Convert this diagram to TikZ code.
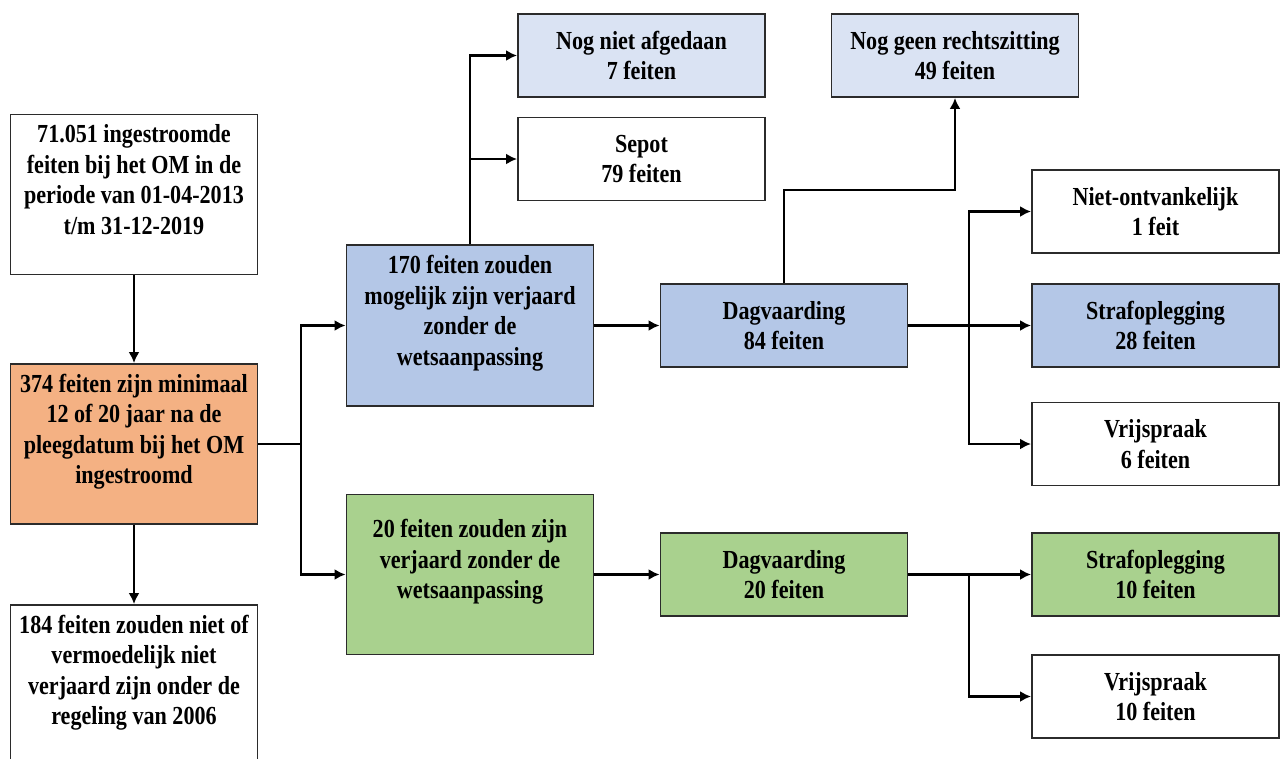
\documentclass[tikz,border=0pt]{standalone}
\usepackage{fontspec}
\setmainfont{Liberation Serif}[FakeStretch=0.85]
\usetikzlibrary{arrows.meta}
\definecolor{orangebox}{HTML}{F4B183}
\definecolor{bluebox}{HTML}{B4C7E7}
\definecolor{lightbox}{HTML}{DAE3F3}
\definecolor{greenbox}{HTML}{A9D18E}
\definecolor{edge}{HTML}{2B2B2B}
\tikzset{
  box/.style={draw=edge, line width=1.9pt, minimum width=247pt, minimum height=#1,
    inner sep=0pt, align=center, font=\fontsize{26}{30.5}\selectfont\bfseries},
  box/.default=83pt,
  arr/.style={line width=2.8pt, draw=black, -{Latex[length=11pt,width=11pt]}},
  ln/.style={line width=2.8pt, draw=black}
}
\begin{document}
\begin{tikzpicture}[x=1pt,y=-1pt]
\useasboundingbox (0,0) rectangle (1280,758);
\clip (0,0) rectangle (1280,758);
% left column
\node[box=160pt] (A) at (134,194.5) {71.051 ingestroomde\\feiten bij het OM in de\\periode van 01-04-2013\\t/m 31-12-2019\\\mbox{}};
\node[box=160pt, fill=orangebox] (B) at (134,444) {374 feiten zijn minimaal\\12 of 20 jaar na de\\pleegdatum bij het OM\\ingestroomd\\\mbox{}};
\node[box=160pt] (C) at (134,685) {184 feiten zouden niet of\\vermoedelijk niet\\verjaard zijn onder de\\regeling van 2006\\\mbox{}};
% middle column
\node[box=161pt, fill=bluebox] (D) at (470,325.5) {170 feiten zouden\\mogelijk zijn verjaard\\zonder de\\wetsaanpassing\\\mbox{}};
\node[box=160pt, fill=greenbox] (E) at (470,574.5) {20 feiten zouden zijn\\verjaard zonder de\\wetsaanpassing\\\mbox{}};
% top boxes
\node[box, fill=lightbox] (NNA) at (641.5,55.5) {Nog niet afgedaan\\7 feiten};
\node[box] (SEP) at (641.5,159) {Sepot\\79 feiten};
\node[box, fill=lightbox] (NGR) at (955,55.5) {Nog geen rechtszitting\\49 feiten};
% dagvaarding
\node[box, fill=bluebox] (F) at (784,325.5) {Dagvaarding\\84 feiten};
\node[box, fill=greenbox] (G) at (784,574.5) {Dagvaarding\\20 feiten};
% right column
\node[box] (NO) at (1155.5,211.5) {Niet-ontvankelijk\\1 feit};
\node[box, fill=bluebox] (SO) at (1155.5,325.5) {Strafoplegging\\28 feiten};
\node[box] (VR1) at (1155.5,444) {Vrijspraak\\6 feiten};
\node[box, fill=greenbox] (SO2) at (1155.5,574.5) {Strafoplegging\\10 feiten};
\node[box] (VR2) at (1155.5,696.5) {Vrijspraak\\10 feiten};
% connectors
\coordinate (bsplit) at (301,444);
\coordinate (fsplit) at (969,325.5);
\coordinate (gsplit) at (969,574.5);
\draw[arr] (A.south) -- (B.north);
\draw[arr] (B.south) -- (C.north);
\draw[ln] (B.east) -- (bsplit);
\draw[arr] (bsplit) |- (D.west);
\draw[arr] (bsplit) |- (E.west);
\draw[arr] (D.north) |- (NNA.west);
\draw[arr] (D.north) |- (SEP.west);
\draw[arr] (D.east) -- (F.west);
\draw[arr] (F.north) -- ++(0,-93) -| (NGR.south);
\draw[ln] (F.east) -- (fsplit);
\draw[arr] (fsplit) |- (NO.west);
\draw[arr] (fsplit) -- (SO.west);
\draw[arr] (fsplit) |- (VR1.west);
\draw[arr] (E.east) -- (G.west);
\draw[ln] (G.east) -- (gsplit);
\draw[arr] (gsplit) -- (SO2.west);
\draw[arr] (gsplit) |- (VR2.west);
\end{tikzpicture}
\end{document}
